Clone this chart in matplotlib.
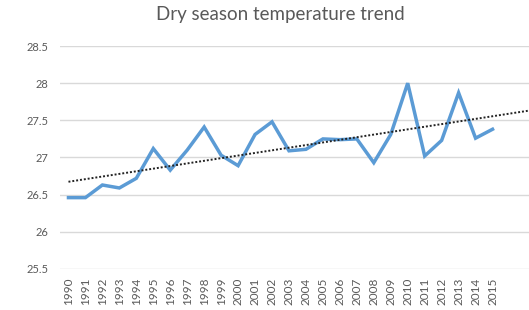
import numpy as np
import matplotlib
matplotlib.use('Agg')
import matplotlib.pyplot as plt

# dry season mean temperature per year
years = list(range(1990, 2016))
temps = [26.46, 26.46, 26.63, 26.59, 26.72, 27.12, 26.83, 27.10, 27.41, 27.03,
         26.89, 27.31, 27.48, 27.09, 27.11, 27.25, 27.24, 27.25, 26.93, 27.31,
         28.00, 27.02, 27.23, 27.87, 27.26, 27.38]
y_ticks = [25.5, 26, 26.5, 27, 27.5, 28, 28.5]

plt.rcParams['font.family'] = ['Lato', 'DejaVu Sans']

fig = plt.figure(figsize=(5.29, 3.10), dpi=100)
ax = fig.add_axes([0.1134, 0.1323, 0.8866, 0.7193])

xpos = np.arange(len(years))
ax.plot(xpos, temps, color='#5B9BD5', linewidth=2.5, solid_joinstyle='miter', zorder=3)

# linear trend, extended forward like the excel forecast
slope, intercept = np.polyfit(xpos, temps, 1)
xt = np.array([0, 28])
ax.plot(xt, slope * xt + intercept, color='#222222', linestyle=(0, (1, 1)),
        linewidth=1.4, zorder=4)

ax.set_xlim(-0.5, 27.15)
ax.set_ylim(25.5, 28.5)
ax.set_yticks(y_ticks)
ax.set_yticklabels(['25.5', '26', '26.5', '27', '27.5', '28', '28.5'])
ax.set_xticks(xpos)
ax.set_xticklabels([str(y) for y in years], rotation=90)
ax.grid(axis='y', color='#D9D9D9', linewidth=1)
ax.set_axisbelow(True)
for s in ax.spines.values():
    s.set_visible(False)
ax.tick_params(axis='y', length=0, colors='#595959', labelsize=8, pad=8.5)
ax.tick_params(axis='x', length=0, colors='#595959', labelsize=8.5, pad=6)

fig.text(0.53, 0.952, 'Dry season temperature trend', ha='center', va='center',
         fontsize=13.5, color='#595959')

fig.savefig('out.png', dpi=100)
